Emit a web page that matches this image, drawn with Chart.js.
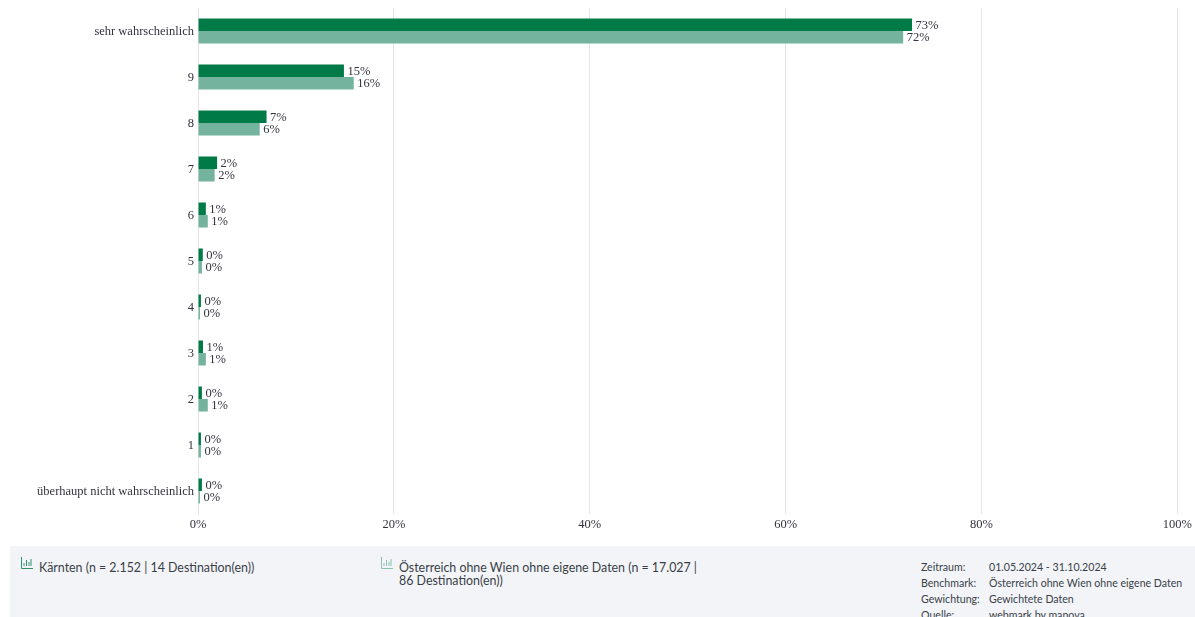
<!DOCTYPE html>
<html>
<head>
<meta charset="utf-8">
<script src="https://cdn.jsdelivr.net/npm/chart.js@4/dist/chart.umd.min.js"></script>
<style>
  html, body { margin: 0; padding: 0; background: #fff; overflow: hidden; }
  #wrap { position: absolute; left: 0; top: 0; width: 1195px; height: 545px; }
  #info {
    position: absolute; left: 10px; top: 546px; width: 1185px; height: 71px;
    background: #f2f4f8; overflow: hidden;
    font-family: Lato, sans-serif; color: #3a3f47;
  }
  .leg { position: absolute; top: 15px; font-size: 12.4px; line-height: 13px; }
  .leg svg { position: absolute; left: -18px; top: -4px; opacity: 0.8; }
  #meta { position: absolute; left: 911px; top: 13px; font-size: 10.6px; line-height: 16px; }
  #meta div { white-space: nowrap; }
  #meta span { display: inline-block; width: 68px; }
</style>
</head>
<body>
<div id="wrap"><canvas id="chart"></canvas></div>
<div id="info">
  <div class="leg" id="leg0" style="left:29px;width:300px"></div>
  <div class="leg" id="leg1" style="left:389px;width:304px"></div>
  <div id="meta"></div>
</div>
<script>
const categories = ["sehr wahrscheinlich", "9", "8", "7", "6", "5", "4", "3", "2", "1", "überhaupt nicht wahrscheinlich"];
const kaernten = [72.9, 14.9, 7.0, 1.95, 0.8, 0.49, 0.3, 0.51, 0.4, 0.3, 0.4];
const oesterreich = [72.0, 15.9, 6.3, 1.7, 1.0, 0.4, 0.2, 0.8, 1.0, 0.3, 0.2];
const seriesNames = ["Kärnten (n = 2.152 | 14 Destination(en))", "Österreich ohne Wien ohne eigene Daten (n = 17.027 | 86 Destination(en))"];
const seriesColors = ["#007a46", "#74b49e"];
const metaLabels = ["Zeitraum:", "Benchmark:", "Gewichtung:", "Quelle:"];
const metaValues = ["01.05.2024 - 31.10.2024", "Österreich ohne Wien ohne eigene Daten", "Gewichtete Daten", "webmark by manova"];

const serif = "'Liberation Serif', serif";

// value labels at the end of each bar
const barLabels = {
  id: "barLabels",
  afterDatasetsDraw(chart) {
    const ctx = chart.ctx;
    ctx.save();
    ctx.font = "12.5px " + serif;
    ctx.fillStyle = "#33333f";
    ctx.textAlign = "left";
    ctx.textBaseline = "middle";
    chart.data.datasets.forEach((ds, i) => {
      chart.getDatasetMeta(i).data.forEach((bar, j) => {
        ctx.fillText(Math.round(ds.data[j]) + "%", bar.x + 3.5, bar.y + 0.7);
      });
    });
    ctx.restore();
  }
};

new Chart(document.getElementById("chart"), {
  type: "bar",
  data: {
    labels: categories,
    datasets: [
      { label: seriesNames[0], data: kaernten, backgroundColor: seriesColors[0] },
      { label: seriesNames[1], data: oesterreich, backgroundColor: seriesColors[1] }
    ]
  },
  options: {
    indexAxis: "y",
    responsive: true,
    maintainAspectRatio: false,
    animation: false,
    categoryPercentage: 0.543,
    barPercentage: 1,
    layout: { padding: { top: 8, right: 17.5, bottom: 0, left: 0 } },
    plugins: { legend: { display: false }, tooltip: { enabled: false } },
    scales: {
      x: {
        min: 0,
        max: 100,
        ticks: {
          stepSize: 20,
          maxRotation: 0,
          padding: 3,
          color: "#33333f",
          font: { family: serif, size: 12.5 },
          callback: v => v + "%"
        },
        grid: { color: "#e6e6e6", drawTicks: false },
        border: { display: false },
        afterFit(scale) { scale.height = 31; }
      },
      y: {
        ticks: {
          padding: 4,
          labelOffset: 1,
          color: "#33333f",
          font: { family: serif, size: 12.5 }
        },
        grid: { display: false, drawTicks: false },
        border: { color: "#e6e6e6" },
        afterFit(scale) {
          scale.width = 198;
          // keep the plot top at the layout padding, not half a label lower
          scale.paddingTop = 0;
          scale.paddingBottom = 0;
        }
      }
    }
  },
  plugins: [barLabels]
});

// legend and meta panel below the chart
function barIcon(color) {
  return '<svg width="12" height="12" viewBox="0 0 12 12"><path d="M0.5 0v11.5H12" fill="none" stroke="' + color + '"/>' +
    '<path d="M3 9V6M5.5 9V3M8 9V5M10 9V2" stroke="' + color + '" fill="none"/></svg>';
}
seriesNames.forEach((name, i) => {
  document.getElementById("leg" + i).innerHTML = barIcon(seriesColors[i]) + name;
});
document.getElementById("meta").innerHTML = metaLabels
  .map((l, i) => "<div><span>" + l + "</span>" + metaValues[i] + "</div>")
  .join("");
</script>
</body>
</html>
